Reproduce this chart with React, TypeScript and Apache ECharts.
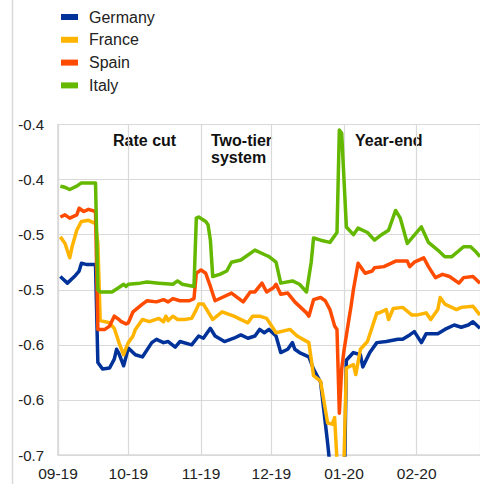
import React, { useEffect, useRef } from "react";
import * as echarts from "echarts";

type Pt = [string, number];

const seriesNames = ["Germany", "France", "Spain", "Italy"];
const seriesColors = ["#003299", "#FFB400", "#FF4B00", "#65B800"];

const yTickLabels = ["-0.7", "-0.6", "-0.6", "-0.5", "-0.5", "-0.4", "-0.4"];

const germany: Pt[] = [
  ["2019-09-02", -0.488], ["2019-09-03", -0.49], ["2019-09-05", -0.494], ["2019-09-08", -0.488],
  ["2019-09-10", -0.483], ["2019-09-11", -0.476], ["2019-09-13", -0.477], ["2019-09-17", -0.477],
  ["2019-09-18", -0.566], ["2019-09-20", -0.572], ["2019-09-23", -0.571], ["2019-09-25", -0.563],
  ["2019-09-26", -0.554], ["2019-09-27", -0.558], ["2019-09-29", -0.569], ["2019-10-01", -0.553],
  ["2019-10-04", -0.559], ["2019-10-07", -0.561], ["2019-10-11", -0.548], ["2019-10-13", -0.545],
  ["2019-10-16", -0.548], ["2019-10-18", -0.547], ["2019-10-21", -0.552], ["2019-10-23", -0.547],
  ["2019-10-28", -0.55], ["2019-10-31", -0.542], ["2019-11-02", -0.544], ["2019-11-05", -0.535],
  ["2019-11-07", -0.542], ["2019-11-11", -0.547], ["2019-11-15", -0.544], ["2019-11-18", -0.541],
  ["2019-11-21", -0.544], ["2019-11-24", -0.542], ["2019-11-26", -0.536], ["2019-11-28", -0.539],
  ["2019-11-30", -0.536], ["2019-12-03", -0.542], ["2019-12-05", -0.557], ["2019-12-08", -0.554],
  ["2019-12-10", -0.548], ["2019-12-11", -0.554], ["2019-12-13", -0.557], ["2019-12-17", -0.561],
  ["2019-12-19", -0.572], ["2019-12-22", -0.584], ["2019-12-25", -0.639], ["2019-12-27", -0.68],
  ["2019-12-31", -0.7], ["2020-01-01", -0.7], ["2020-01-02", -0.564], ["2020-01-05", -0.557],
  ["2020-01-08", -0.559], ["2020-01-09", -0.57], ["2020-01-12", -0.557], ["2020-01-15", -0.548],
  ["2020-01-19", -0.547], ["2020-01-24", -0.545], ["2020-01-26", -0.545], ["2020-01-29", -0.541],
  ["2020-01-31", -0.538], ["2020-02-03", -0.548], ["2020-02-05", -0.54], ["2020-02-10", -0.54],
  ["2020-02-13", -0.536], ["2020-02-17", -0.532], ["2020-02-20", -0.534], ["2020-02-23", -0.532],
  ["2020-02-25", -0.529], ["2020-02-28", -0.535],
];

const france: Pt[] = [
  ["2019-09-02", -0.452], ["2019-09-04", -0.458], ["2019-09-06", -0.471], ["2019-09-07", -0.461],
  ["2019-09-09", -0.446], ["2019-09-11", -0.438], ["2019-09-14", -0.437], ["2019-09-17", -0.44],
  ["2019-09-18", -0.458], ["2019-09-19", -0.528], ["2019-09-23", -0.53], ["2019-09-25", -0.535],
  ["2019-09-27", -0.548], ["2019-09-29", -0.559], ["2019-09-30", -0.553], ["2019-10-01", -0.548],
  ["2019-10-03", -0.542], ["2019-10-04", -0.536], ["2019-10-07", -0.527], ["2019-10-10", -0.529],
  ["2019-10-14", -0.526], ["2019-10-16", -0.529], ["2019-10-17", -0.524], ["2019-10-18", -0.528],
  ["2019-10-20", -0.524], ["2019-10-22", -0.527], ["2019-10-25", -0.527], ["2019-10-28", -0.526],
  ["2019-10-30", -0.518], ["2019-10-31", -0.513], ["2019-11-02", -0.513], ["2019-11-04", -0.52],
  ["2019-11-06", -0.527], ["2019-11-10", -0.52], ["2019-11-15", -0.524], ["2019-11-17", -0.526],
  ["2019-11-21", -0.53], ["2019-11-23", -0.524], ["2019-11-26", -0.524], ["2019-11-29", -0.526],
  ["2019-12-03", -0.539], ["2019-12-09", -0.536], ["2019-12-12", -0.542], ["2019-12-17", -0.548],
  ["2019-12-19", -0.578], ["2019-12-22", -0.583], ["2019-12-25", -0.621], ["2019-12-27", -0.622],
  ["2019-12-28", -0.616], ["2019-12-29", -0.655], ["2020-01-01", -0.655], ["2020-01-02", -0.571],
  ["2020-01-05", -0.568], ["2020-01-06", -0.577], ["2020-01-08", -0.554], ["2020-01-11", -0.547],
  ["2020-01-15", -0.521], ["2020-01-16", -0.521], ["2020-01-19", -0.518], ["2020-01-20", -0.527],
  ["2020-01-22", -0.517], ["2020-01-26", -0.516], ["2020-01-30", -0.523], ["2020-02-01", -0.523],
  ["2020-02-05", -0.521], ["2020-02-07", -0.527], ["2020-02-10", -0.518], ["2020-02-11", -0.507],
  ["2020-02-13", -0.513], ["2020-02-18", -0.518], ["2020-02-20", -0.516], ["2020-02-25", -0.515],
  ["2020-02-28", -0.523],
];

const spain: Pt[] = [
  ["2019-09-02", -0.434], ["2019-09-04", -0.432], ["2019-09-06", -0.435], ["2019-09-09", -0.432],
  ["2019-09-10", -0.426], ["2019-09-12", -0.429], ["2019-09-14", -0.427], ["2019-09-17", -0.429],
  ["2019-09-18", -0.536], ["2019-09-21", -0.536], ["2019-09-23", -0.533], ["2019-09-25", -0.524],
  ["2019-09-27", -0.527], ["2019-09-28", -0.529], ["2019-09-30", -0.531], ["2019-10-01", -0.53],
  ["2019-10-03", -0.52], ["2019-10-07", -0.513], ["2019-10-09", -0.51], ["2019-10-13", -0.511],
  ["2019-10-16", -0.509], ["2019-10-18", -0.511], ["2019-10-20", -0.508], ["2019-10-23", -0.51],
  ["2019-10-27", -0.51], ["2019-10-29", -0.508], ["2019-10-30", -0.485], ["2019-11-01", -0.482],
  ["2019-11-03", -0.485], ["2019-11-05", -0.497], ["2019-11-07", -0.51], ["2019-11-10", -0.507],
  ["2019-11-14", -0.503], ["2019-11-19", -0.511], ["2019-11-22", -0.502], ["2019-11-24", -0.502],
  ["2019-11-27", -0.494], ["2019-11-29", -0.502], ["2019-12-02", -0.498], ["2019-12-03", -0.495],
  ["2019-12-05", -0.504], ["2019-12-08", -0.503], ["2019-12-11", -0.511], ["2019-12-16", -0.521],
  ["2019-12-17", -0.524], ["2019-12-19", -0.509], ["2019-12-22", -0.507], ["2019-12-24", -0.51],
  ["2019-12-26", -0.518], ["2019-12-28", -0.533], ["2019-12-29", -0.536], ["2019-12-30", -0.612],
  ["2019-12-31", -0.572], ["2020-01-01", -0.555], ["2020-01-03", -0.528], ["2020-01-04", -0.515],
  ["2020-01-05", -0.5], ["2020-01-07", -0.476], ["2020-01-08", -0.479], ["2020-01-10", -0.485],
  ["2020-01-13", -0.483], ["2020-01-14", -0.48], ["2020-01-18", -0.479], ["2020-01-21", -0.476],
  ["2020-01-23", -0.474], ["2020-01-28", -0.474], ["2020-01-29", -0.479], ["2020-01-31", -0.475],
  ["2020-02-04", -0.471], ["2020-02-06", -0.479], ["2020-02-09", -0.489], ["2020-02-12", -0.486],
  ["2020-02-15", -0.488], ["2020-02-19", -0.494], ["2020-02-21", -0.489], ["2020-02-25", -0.488],
  ["2020-02-28", -0.494],
];

const italy: Pt[] = [
  ["2019-09-02", -0.406], ["2019-09-04", -0.407], ["2019-09-06", -0.409], ["2019-09-09", -0.406],
  ["2019-09-11", -0.403], ["2019-09-17", -0.403], ["2019-09-18", -0.5], ["2019-09-19", -0.502],
  ["2019-09-24", -0.502], ["2019-09-27", -0.498], ["2019-09-29", -0.495], ["2019-09-30", -0.497],
  ["2019-10-01", -0.495], ["2019-10-06", -0.494], ["2019-10-09", -0.493], ["2019-10-14", -0.494],
  ["2019-10-20", -0.495], ["2019-10-22", -0.492], ["2019-10-24", -0.495], ["2019-10-29", -0.497],
  ["2019-10-30", -0.435], ["2019-10-31", -0.434], ["2019-11-03", -0.438], ["2019-11-04", -0.441],
  ["2019-11-05", -0.455], ["2019-11-06", -0.488], ["2019-11-09", -0.486], ["2019-11-12", -0.483],
  ["2019-11-14", -0.475], ["2019-11-18", -0.473], ["2019-11-24", -0.464], ["2019-11-28", -0.468],
  ["2019-11-30", -0.47], ["2019-12-03", -0.475], ["2019-12-05", -0.494], ["2019-12-10", -0.492],
  ["2019-12-13", -0.495], ["2019-12-16", -0.502], ["2019-12-18", -0.475], ["2019-12-19", -0.453],
  ["2019-12-22", -0.455], ["2019-12-26", -0.457], ["2019-12-29", -0.448], ["2019-12-30", -0.355],
  ["2019-12-31", -0.358], ["2020-01-02", -0.443], ["2020-01-05", -0.45], ["2020-01-07", -0.444],
  ["2020-01-11", -0.448], ["2020-01-14", -0.455], ["2020-01-17", -0.45], ["2020-01-20", -0.446],
  ["2020-01-23", -0.428], ["2020-01-25", -0.435], ["2020-01-28", -0.458], ["2020-01-30", -0.453],
  ["2020-02-03", -0.443], ["2020-02-06", -0.457], ["2020-02-10", -0.464], ["2020-02-13", -0.47],
  ["2020-02-16", -0.47], ["2020-02-21", -0.461], ["2020-02-24", -0.461], ["2020-02-26", -0.465],
  ["2020-02-28", -0.47],
];

// event lines: [date at top, date at bottom]
const eventLines: [string, string][] = [
  ["2019-09-15 22:00", "2019-09-14 08:00"],
  ["2019-10-26 06:00", "2019-10-24 14:00"],
  ["2019-12-26 18:00", "2019-12-25 04:00"],
];
const eventLabels = ["Rate cut", "Two-tier\nsystem", "Year-end"];

const Y_MIN = -0.65;
const Y_MAX = -0.35;
const Y_STEP = 0.05;
const EVENT_BOTTOM = -0.652;

const FONT = '"Liberation Sans", Arial, sans-serif';

export default function App() {
  const ref = useRef<HTMLDivElement>(null);

  useEffect(() => {
    document.body.style.margin = "0";
    if (!ref.current) return;
    const chart = echarts.init(ref.current, undefined, { renderer: "svg" });
    const allData = [germany, france, spain, italy];

    const lineSeries = seriesNames.map((name, i) => ({
      name,
      type: "line",
      data: allData[i],
      showSymbol: false,
      symbol: "none",
      lineStyle: { color: seriesColors[i], width: 3.5, join: "round" },
      itemStyle: { color: seriesColors[i] },
      clip: true,
      z: 3,
    }));

    const option: any = {
      animation: false,
      textStyle: { fontFamily: FONT },
      grid: { left: 58, right: 0, top: 124.5, bottom: 29, containLabel: false },
      legend: {
        data: seriesNames,
        orient: "vertical",
        left: 61,
        top: 9,
        padding: 0,
        icon: "rect",
        itemWidth: 17,
        itemHeight: 6,
        itemGap: 6.8,
        textStyle: { fontSize: 16, color: "#222", lineHeight: 16, fontFamily: FONT, padding: [0, 0, 0, 6] },
      },
      xAxis: {
        type: "time",
        min: "2019-09-01",
        max: "2020-02-28",
        minInterval: 28 * 24 * 3600 * 1000,
        maxInterval: 31 * 24 * 3600 * 1000,
        axisLine: { show: true, lineStyle: { color: "#d9d9d9", width: 1.5 } },
        axisTick: { show: false },
        splitLine: { show: true, lineStyle: { color: "#d9d9d9", width: 1.2 } },
        axisLabel: {
          fontSize: 15.5,
          color: "#222",
          margin: 10,
          fontFamily: FONT,
          hideOverlap: false,
          formatter: (val: number) => {
            const d = new Date(val);
            const m = String(d.getMonth() + 1).padStart(2, "0");
            const y = String(d.getFullYear() % 100).padStart(2, "0");
            return `${m}-${y}`;
          },
        },
      },
      yAxis: {
        type: "value",
        min: Y_MIN,
        max: Y_MAX,
        interval: Y_STEP,
        axisLine: { show: true, lineStyle: { color: "#d9d9d9", width: 1.5 } },
        axisTick: { show: false },
        splitLine: { show: true, lineStyle: { color: "#d9d9d9", width: 1.2 } },
        axisLabel: {
          fontSize: 15,
          color: "#222",
          margin: 14,
          fontFamily: FONT,
          formatter: (v: number) => {
            const idx = Math.round((v - Y_MIN) / Y_STEP);
            return yTickLabels[idx] ?? "";
          },
        },
      },
      series: [
        ...lineSeries,
        {
          name: "events",
          type: "line",
          data: [],
          clip: false,
          silent: true,
          z: 5,
          markLine: {
            silent: true,
            symbol: ["none", "none"],
            label: { show: false },
            lineStyle: { color: "#6b6b6b", width: 2.5, type: "solid" },
            data: eventLines.map(([top, bottom]) => [
              { coord: [top, Y_MAX] },
              { coord: [bottom, EVENT_BOTTOM] },
            ]),
          },
        },
      ],
      graphic: [
        {
          type: "line",
          shape: { x1: 12.5, y1: 0, x2: 12.5, y2: 484 },
          style: { stroke: "#d9d9d9", lineWidth: 1.5 },
          silent: true,
        },
        {
          type: "text",
          left: 113,
          top: 132,
          style: { text: eventLabels[0], fill: "#111", font: `bold 16px ${FONT}` },
        },
        {
          type: "text",
          left: 211,
          top: 132,
          style: { text: eventLabels[1], fill: "#111", font: `bold 16px ${FONT}`, lineHeight: 17 },
        },
        {
          type: "text",
          left: 355,
          top: 132,
          style: { text: eventLabels[2], fill: "#111", font: `bold 16px ${FONT}` },
        },
      ],
    };

    chart.setOption(option);
    return () => chart.dispose();
  }, []);

  return <div ref={ref} style={{ width: 480, height: 484 }} />;
}
